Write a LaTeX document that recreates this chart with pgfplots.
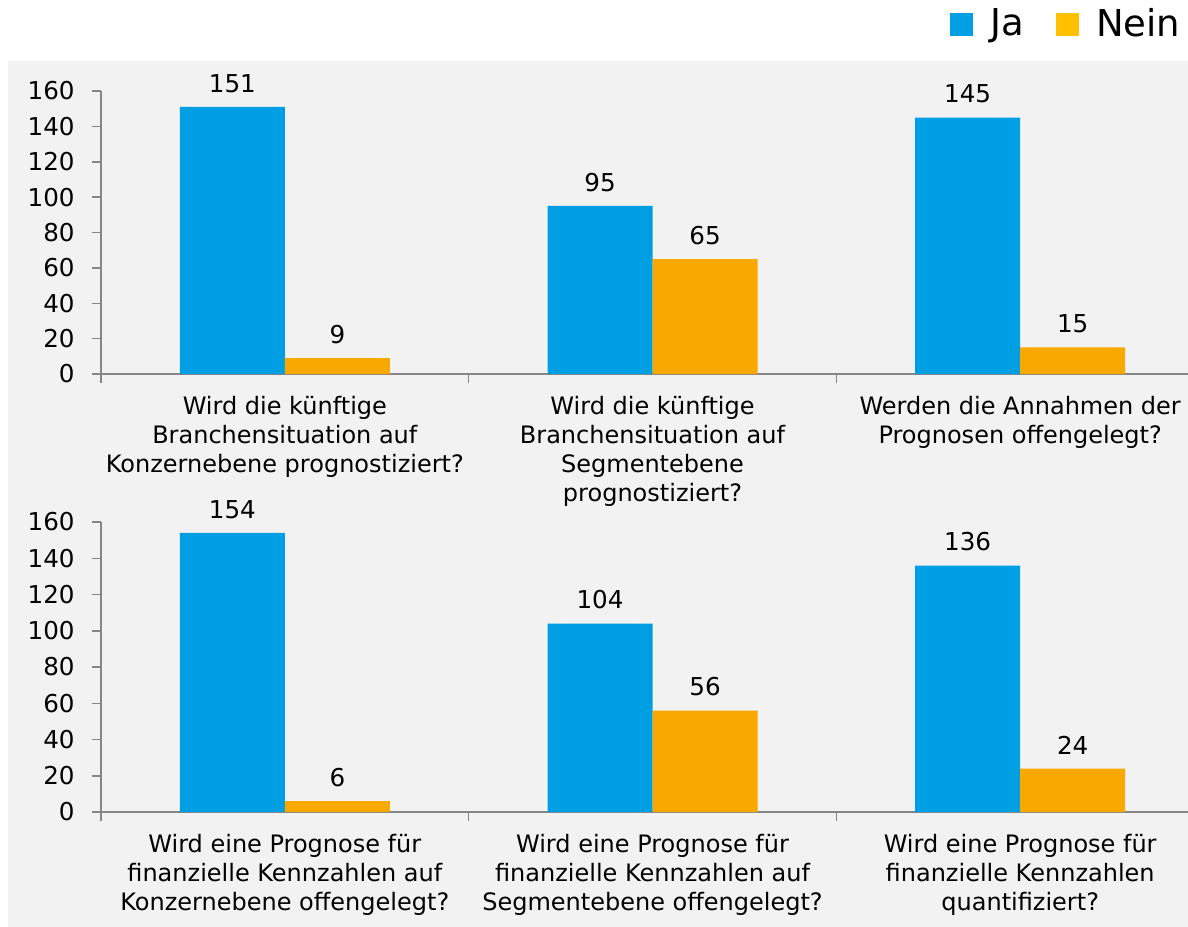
\documentclass[border=0pt]{standalone}
\usepackage{pgfplots}
\pgfplotsset{compat=1.18}
\usepackage{fontspec}
\setmainfont{DejaVu Sans}
\definecolor{ja}{RGB}{0,159,227}
\definecolor{nein}{RGB}{249,168,0}
\definecolor{neinleg}{RGB}{255,192,0}
\definecolor{panel}{RGB}{242,242,242}
\definecolor{axg}{RGB}{134,134,134}
\newcommand{\tf}{\fontsize{12}{14.5}\selectfont}
\newcommand{\nf}{\fontsize{12.3}{14.5}\selectfont}
\pgfplotsset{
  myax/.style={
    scale only axis, width=551.5pt,
    xmin=0, xmax=3, ymin=0, ymax=160,
    axis x line*=bottom, axis y line*=left,
    axis line style={axg, line width=1.3pt, -},
    ytick={0,20,...,160}, yticklabels={0,20,40,60,80,100,120,140,160},
    xtick={0,1,2,3}, xticklabels={},
    tick align=outside, major tick length=4.5pt,
    major tick style={axg, line width=0.75pt},
    yticklabel style={font=\nf, text=black, anchor=east, inner sep=0pt, xshift=-8.5pt},
    /pgf/number format/assume math mode=true,
    clip=false,
    nodes near coords,
    every node near coord/.append style={font=\nf, text=black, anchor=south, inner sep=0pt, yshift=7pt},
  },
  jabar/.style={ybar, fill=ja, draw=none, bar width=52.5pt, bar shift=-26.25pt, forget plot,
    every node near coord/.append style={xshift=-26.25pt}},
  neinbar/.style={ybar, fill=nein, draw=none, bar width=52.5pt, bar shift=26.25pt, forget plot,
    every node near coord/.append style={xshift=26.25pt}},
}
\tikzset{lab/.style={align=center, anchor=north, font=\tf, text=black, inner sep=0pt, yshift=-11pt}}
\begin{document}
\begin{tikzpicture}
\useasboundingbox (0,0) rectangle (594pt,-463pt);
\clip (0,0) rectangle (594pt,-463pt);
\fill[panel] (4pt,-30.5pt) rectangle (600pt,-470pt);
\begin{axis}[myax, at={(50.5pt,-187pt)}, anchor=south west, height=141.5pt,
  legend style={at={(rel axis cs:0.988,1.237)}, anchor=east, draw=none, fill=none,
    font=\fontsize{18.5}{22}\selectfont, legend columns=2,
    /tikz/every even column/.append style={column sep=14pt}}]
\addlegendimage{legend image code/.code={\fill[ja] (0pt,-5.5pt) rectangle (11pt,5.5pt); \path[draw=none,fill=none] (0pt,0pt) -- (18pt,0pt);}}
\addlegendentry{Ja}
\addlegendimage{legend image code/.code={\fill[neinleg] (0pt,-5.5pt) rectangle (11pt,5.5pt); \path[draw=none,fill=none] (0pt,0pt) -- (18pt,0pt);}}
\addlegendentry{Nein}
\addplot[jabar] coordinates {(0.5,151) (1.5,95) (2.5,145)};
\addplot[neinbar] coordinates {(0.5,9) (1.5,65) (2.5,15)};
\node[lab] at (axis cs:0.5,0) {Wird die künftige\\Branchensituation auf\\Konzernebene prognostiziert?};
\node[lab] at (axis cs:1.5,0) {Wird die künftige\\Branchensituation auf\\Segmentebene\\prognostiziert?};
\node[lab] at (axis cs:2.5,0) {Werden die Annahmen der\\Prognosen offengelegt?};
\end{axis}
\begin{axis}[myax, at={(50.5pt,-406pt)}, anchor=south west, height=145pt]
\addplot[jabar] coordinates {(0.5,154) (1.5,104) (2.5,136)};
\addplot[neinbar] coordinates {(0.5,6) (1.5,56) (2.5,24)};
\node[lab] at (axis cs:0.5,0) {Wird eine Prognose für\\finanzielle Kennzahlen auf\\Konzernebene offengelegt?};
\node[lab] at (axis cs:1.5,0) {Wird eine Prognose für\\finanzielle Kennzahlen auf\\Segmentebene offengelegt?};
\node[lab] at (axis cs:2.5,0) {Wird eine Prognose für\\finanzielle Kennzahlen\\quantifiziert?};
\end{axis}
\end{tikzpicture}
\end{document}
